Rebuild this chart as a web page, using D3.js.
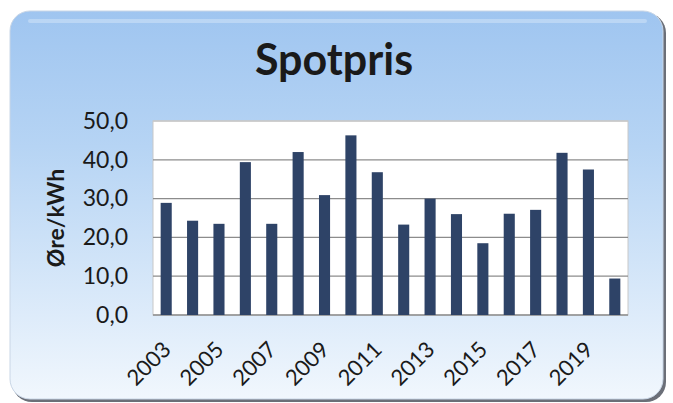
<!DOCTYPE html>
<html>
<head>
<meta charset="utf-8">
<script src="https://cdn.jsdelivr.net/npm/d3@7"></script>
<style>
  body { margin: 0; background: #fff; }
  svg { display: block; }
</style>
</head>
<body>
<div id="chart"></div>
<script>
// data
var years = [2003, 2004, 2005, 2006, 2007, 2008, 2009, 2010, 2011, 2012,
             2013, 2014, 2015, 2016, 2017, 2018, 2019, 2020];
var prices = [28.9, 24.3, 23.5, 39.4, 23.5, 42.0, 30.9, 46.3, 36.8, 23.3,
              30.0, 26.0, 18.5, 26.1, 27.1, 41.8, 37.5, 9.4];
var yTicks = [0, 10, 20, 30, 40, 50];
var xLabelYears = [2003, 2005, 2007, 2009, 2011, 2013, 2015, 2017, 2019];

var W = 673, H = 403;
var margin = {top: 121, right: 45, bottom: 88, left: 153},
  width = W - margin.left - margin.right,
  height = H - margin.top - margin.bottom;

var svg = d3.select("#chart")
  .append("svg")
  .attr("width", W)
  .attr("height", H);

/****** FRAME ******/
var defs = svg.append("defs");
var grad = defs.append("linearGradient")
  .attr("id", "bg").attr("x1", 0).attr("y1", 0).attr("x2", 0).attr("y2", 1);
grad.append("stop").attr("offset", "0%").attr("stop-color", "#9fc5f0");
grad.append("stop").attr("offset", "35%").attr("stop-color", "#b6d4f4");
grad.append("stop").attr("offset", "100%").attr("stop-color", "#f1f7fd");

// shadow on right/bottom
svg.append("rect")
  .attr("x", 12).attr("y", 13)
  .attr("width", 654).attr("height", 389)
  .attr("rx", 20)
  .attr("fill", "#6b6f78");

svg.append("rect")
  .attr("x", 10).attr("y", 11)
  .attr("width", 653).attr("height", 388)
  .attr("rx", 20)
  .attr("fill", "url(#bg)")
  .attr("stroke", "#c9d6e6")
  .attr("stroke-width", 1);

// soft top highlight
svg.append("path")
  .attr("d", "M30,21 L645,21")
  .attr("stroke", "#c6ddf7")
  .attr("stroke-width", 4)
  .attr("stroke-linecap", "round")
  .attr("opacity", 0.7);

/****** TITLE ******/
svg.append("text")
  .attr("x", 334)
  .attr("y", 75)
  .attr("text-anchor", "middle")
  .style("font-family", "Lato, 'Open Sans', sans-serif")
  .style("font-weight", "bold")
  .style("font-size", "43px")
  .style("fill", "#1a1a1a")
  .text("Spotpris");

var g = svg.append("g")
  .attr("transform", "translate(" + margin.left + "," + margin.top + ")");

/****** SCALES ******/
var x = d3.scaleBand()
  .domain(years)
  .range([0, width])
  .paddingInner(0.58)
  .paddingOuter(0.29);

var y = d3.scaleLinear()
  .domain([0, 50])
  .range([height, 0]);

// plot area
g.append("rect")
  .attr("width", width)
  .attr("height", height)
  .attr("fill", "#ffffff")
  .attr("stroke", "#c8c8c8");

// gridlines
g.append("g")
  .selectAll("line")
  .data(yTicks)
  .enter()
  .append("line")
    .attr("x1", 0)
    .attr("x2", width)
    .attr("y1", function(d) { return y(d); })
    .attr("y2", function(d) { return y(d); })
    .attr("stroke", function(d) { return d == 50 ? "#c8c8c8" : "#8c8c8c"; })
    .attr("stroke-width", 1.3);

// bars
g.append("g")
  .selectAll("rect")
  .data(prices)
  .enter()
  .append("rect")
    .attr("x", function(d, i) { return x(years[i]); })
    .attr("y", function(d) { return y(d); })
    .attr("width", x.bandwidth())
    .attr("height", function(d) { return height - y(d); })
    .attr("fill", "#2e4367");

/****** AXES ******/
var yAxis = d3.axisLeft(y)
  .tickValues(yTicks)
  .tickSize(0)
  .tickPadding(25)
  .tickFormat(function(d) { return d3.format(".1f")(d).replace(".", ","); });

g.append("g")
  .call(yAxis)
  .call(function(a) { a.select(".domain").remove(); })
  .selectAll("text")
    .style("font-family", "Lato, 'Open Sans', sans-serif")
    .style("font-size", "23px")
    .style("fill", "#1a1a1a");

var xAxis = d3.axisBottom(x)
  .tickValues(xLabelYears)
  .tickSize(0)
  .tickPadding(0);

g.append("g")
  .attr("transform", "translate(0," + height + ")")
  .call(xAxis)
  .call(function(a) { a.select(".domain").remove(); })
  .selectAll("text")
    .attr("text-anchor", "end")
    .attr("dy", 0)
    .attr("transform", "translate(6,36) rotate(-45)")
    .style("font-family", "Lato, 'Open Sans', sans-serif")
    .style("font-size", "22px")
    .style("fill", "#1a1a1a");

// y label
svg.append("text")
  .attr("transform", "translate(64,218) rotate(-90)")
  .attr("text-anchor", "middle")
  .style("font-family", "Lato, 'Open Sans', sans-serif")
  .style("font-weight", "bold")
  .style("font-size", "23px")
  .style("fill", "#1a1a1a")
  .text("Øre/kWh");
</script>
</body>
</html>
